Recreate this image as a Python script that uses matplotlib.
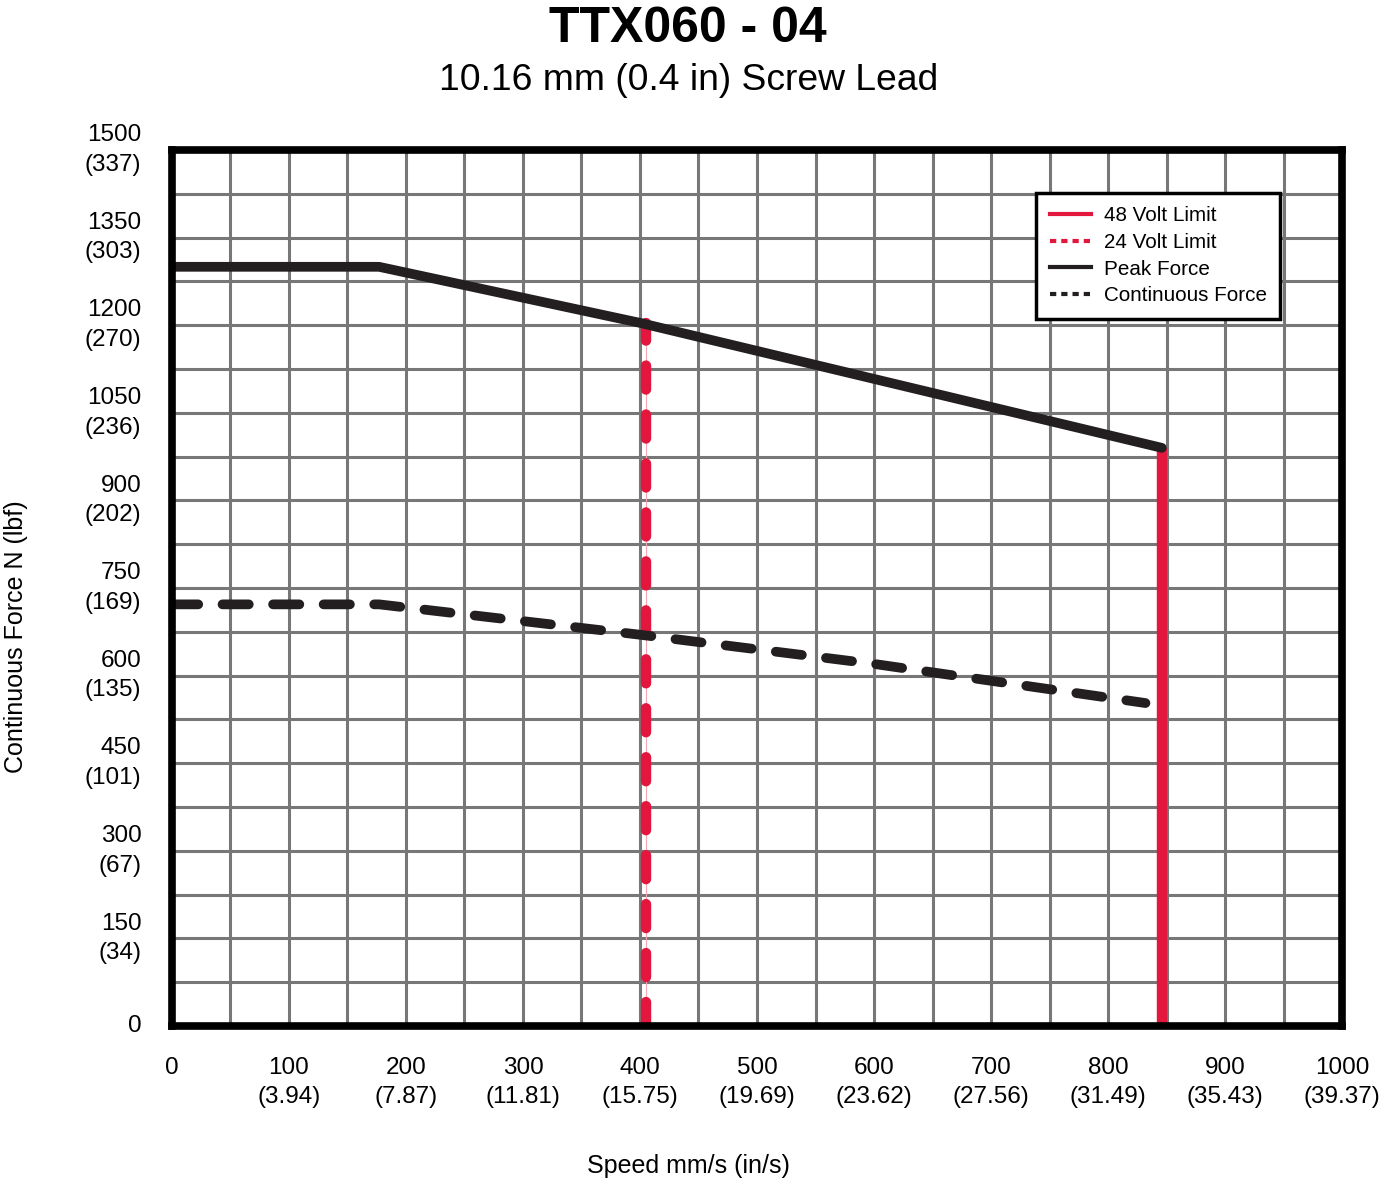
import matplotlib.pyplot as plt
from matplotlib.lines import Line2D
import numpy as np

plt.rcParams['font.family'] = ['Liberation Sans', 'DejaVu Sans']

# speed in mm/s, force in N
peak_speed = [0, 177, 400, 846]
peak_force = [1300, 1300, 1204, 990]
cont_speed = [0, 177, 400, 600, 832]
cont_force = [722, 722, 670, 620, 553]
limit48_speed = 846
limit48_force = 990
limit24_speed = 405
limit24_force = 1204

xticks = [0, 100, 200, 300, 400, 500, 600, 700, 800, 900, 1000]
xlabels = ["0", "100\n(3.94)", "200\n(7.87)", "300\n(11.81)", "400\n(15.75)", "500\n(19.69)",
           "600\n(23.62)", "700\n(27.56)", "800\n(31.49)", "900\n(35.43)", "1000\n(39.37)"]
yticks = [0, 150, 300, 450, 600, 750, 900, 1050, 1200, 1350, 1500]
ylabels = ["0", "150\n(34)", "300\n(67)", "450\n(101)", "600\n(135)", "750\n(169)",
           "900\n(202)", "1050\n(236)", "1200\n(270)", "1350\n(303)", "1500\n(337)"]

red = '#e3173e'
black = '#231f20'

fig = plt.figure(figsize=(13.79, 12.01), dpi=100)
ax = fig.add_axes([0.1247, 0.1457, 0.8485, 0.7294])
ax.set_xlim(0, 1000)
ax.set_ylim(0, 1500)

# grid every 50 mm/s and 75 N
for gx in np.arange(50, 1000, 50):
    ax.axvline(gx, color='#777777', lw=2.2, zorder=1)
for gy in np.arange(75, 1500, 75):
    ax.axhline(gy, color='#777777', lw=2.2, zorder=1)

# 24 V limit (thin connector + round dashes)
ax.plot([limit24_speed, limit24_speed], [0, limit24_force], color='#f4a6b4', lw=0.8, zorder=2)
ax.plot([limit24_speed, limit24_speed], [0, limit24_force], color=red, lw=7.5,
        linestyle=(0, (2.3, 2.4)), dash_capstyle='round', zorder=3)
# 48 V limit
ax.plot([limit48_speed, limit48_speed], [0, limit48_force], color=red, lw=7.5,
        solid_capstyle='butt', zorder=3)
# continuous force
ax.plot(cont_speed, cont_force, color=black, lw=7, linestyle=(0, (2.7, 2.5)),
        dash_capstyle='round', zorder=4)
# peak force
ax.plot(peak_speed, peak_force, color=black, lw=7, solid_capstyle='round', zorder=5)

ax.set_xticks(xticks)
ax.set_xticklabels(xlabels, fontsize=17.5, linespacing=1.45)
ax.set_yticks(yticks)
ax.set_yticklabels(ylabels, fontsize=17.5, linespacing=1.45, va='center')
ax.tick_params(length=0)
ax.tick_params(axis='y', pad=22)
ax.tick_params(axis='x', pad=22)

for s in ax.spines.values():
    s.set_linewidth(5.5)
    s.set_color('black')
    s.set_joinstyle('round')
    s.set_zorder(6)

fig.text(0.499, 0.029, "Speed mm/s (in/s)", ha='center', va='center', fontsize=18)
fig.text(0.0115, 0.47, "Continuous Force N (lbf)", ha='center', va='center',
         fontsize=18, rotation=90)

fig.text(0.499, 0.976, "TTX060 - 04", ha='center', va='center', fontsize=36, fontweight='bold')
fig.text(0.4995, 0.933, "10.16 mm (0.4 in) Screw Lead", ha='center', va='center', fontsize=26.8)

handles = [
    Line2D([], [], color=red, lw=3),
    Line2D([], [], color=red, lw=3, linestyle=(0, (1.5, 1.2))),
    Line2D([], [], color=black, lw=3),
    Line2D([], [], color=black, lw=3, linestyle=(0, (1.5, 1.2))),
]
names = ["48 Volt Limit", "24 Volt Limit", "Peak Force", "Continuous Force"]
leg = ax.legend(handles, names, loc='upper right', bbox_to_anchor=(0.947, 0.951),
                borderaxespad=0, fontsize=14.9, frameon=True, fancybox=False,
                edgecolor='black', handlelength=2.0, handletextpad=0.6,
                labelspacing=0.37, borderpad=0.65, framealpha=1)
leg.get_frame().set_linewidth(2.5)
leg.set_zorder(7)

fig.savefig("out.png", dpi=100, facecolor='white')
